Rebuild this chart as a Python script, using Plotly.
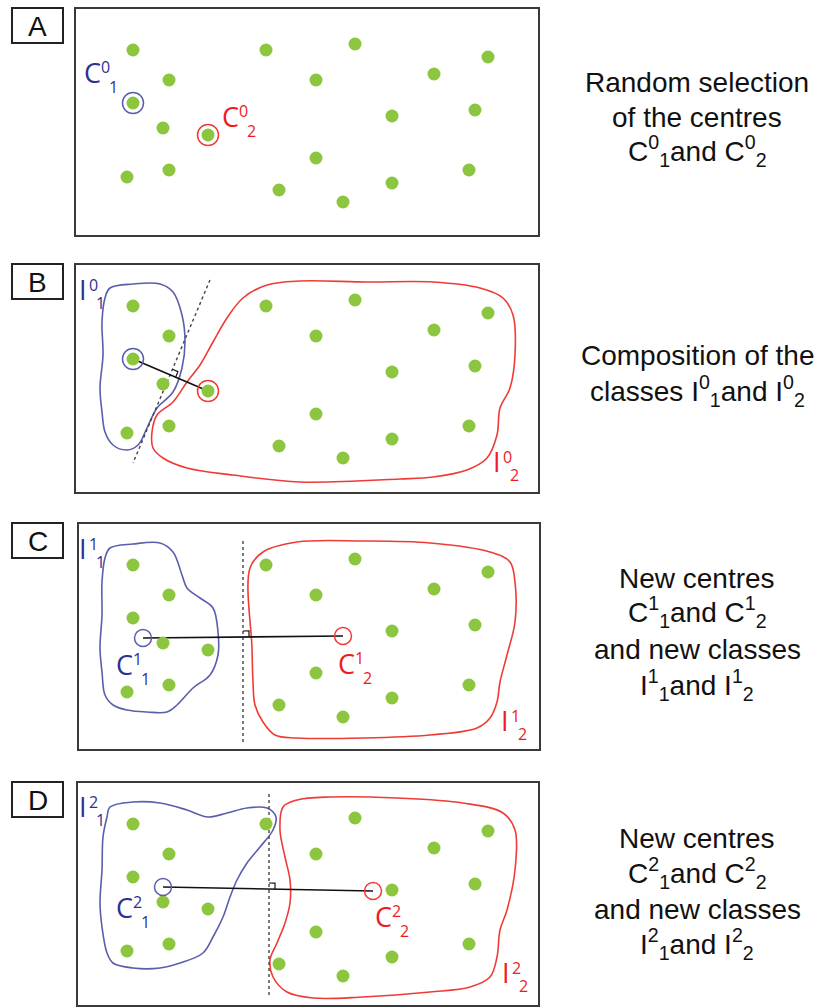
import plotly.graph_objects as go
import numpy as np

W, H = 822, 1007

# ---- data: point positions (panel A frame, pixels) ----
dot_x = [133, 169, 133, 163, 208, 127, 169, 266, 279, 355, 316, 434, 488, 392, 475, 316, 469, 392, 343]
dot_y = [50, 80, 103, 128, 135, 177, 170, 50, 190, 44, 80, 74, 57, 116, 110, 158, 170, 183, 202]

panel_names = ["A", "B", "C", "D"]
panel_offset = [0, 256, 515, 774]
panel_top = [8, 264, 523, 782]
panel_bottom = [236, 493, 750, 1006]
panel_left = [75, 75, 78, 77]
panel_right = [539, 539, 540, 539]

# centres per panel (blue, red)
centre1_x = [133, 133, 143, 163]
centre1_y = [103, 359, 638, 887]
centre2_x = [208, 208, 343, 373]
centre2_y = [135, 391, 636, 891]

# class outlines
b_blue_x = [105, 110, 133, 160, 173, 182, 185, 182, 173, 157, 147, 138, 127, 113, 105, 102, 100, 103, 102, 105]
b_blue_y = [298, 288, 284, 284, 292, 315, 342, 368, 392, 408, 428, 445, 450, 445, 432, 412, 388, 355, 322, 298]
b_red_x = [300, 367, 433, 480, 503, 513, 515, 510, 500, 497, 487, 467, 433, 400, 300, 233, 187, 163, 153, 152, 157, 173, 187, 200, 213, 227, 243, 267, 300]
b_red_y = [281, 282, 282, 288, 298, 315, 355, 388, 408, 435, 458, 470, 477, 479, 482, 475, 468, 458, 448, 432, 415, 402, 382, 365, 342, 318, 298, 285, 281]
c_blue_x = [102, 105, 110, 133, 160, 173, 182, 187, 200, 213, 218, 218, 210, 193, 177, 167, 147, 127, 113, 105, 102, 100, 102, 102]
c_blue_y = [582, 558, 548, 544, 543, 552, 575, 588, 598, 608, 632, 655, 675, 688, 705, 712, 712, 710, 705, 695, 672, 648, 615, 582]
c_red_x = [252, 250, 263, 297, 363, 430, 490, 510, 515, 515, 507, 500, 497, 490, 477, 430, 363, 297, 275, 263, 255, 253, 252]
c_red_y = [648, 568, 552, 542, 541, 543, 552, 562, 582, 622, 655, 682, 702, 718, 728, 735, 738, 738, 735, 722, 705, 682, 648]
d_blue_x = [102, 103, 107, 110, 133, 160, 187, 208, 227, 247, 267, 276, 273, 260, 247, 237, 230, 223, 213, 203, 180, 160, 133, 113, 107, 102, 100, 102]
d_blue_y = [870, 837, 817, 807, 802, 803, 810, 817, 813, 808, 808, 817, 830, 847, 863, 880, 897, 917, 937, 953, 963, 968, 968, 963, 953, 927, 903, 870]
d_red_x = [397, 463, 503, 515, 515, 507, 500, 497, 490, 470, 430, 363, 313, 287, 273, 270, 277, 285, 290, 290, 285, 280, 283, 297, 330, 397]
d_red_y = [798, 803, 813, 830, 870, 910, 930, 957, 977, 987, 992, 997, 998, 992, 977, 960, 943, 923, 903, 880, 857, 830, 807, 800, 797, 798]

outlines = [
    (b_blue_x, b_blue_y, "blue"), (b_red_x, b_red_y, "red"),
    (c_blue_x, c_blue_y, "blue"), (c_red_x, c_red_y, "red"),
    (d_blue_x, d_blue_y, "blue"), (d_red_x, d_red_y, "red"),
]

# separating (dotted) lines: panel B, C, D
sep_x0 = [210, 243, 269]
sep_y0 = [280, 541, 794]
sep_x1 = [133, 243, 269]
sep_y1 = [463, 743, 998]

# right-hand texts (lines, y positions)
right_lines = [
    ("Random selection", 82), ("of the centres", 117),
    ("C<sup>0</sup><sub>1</sub>and C<sup>0</sup><sub>2</sub>", 151),
    ("Composition of the", 355),
    ("classes I<sup>0</sup><sub>1</sub>and I<sup>0</sup><sub>2</sub>", 391),
    ("New centres", 578), ("C<sup>1</sup><sub>1</sub>and C<sup>1</sup><sub>2</sub>", 612),
    ("and new classes", 649), ("I<sup>1</sup><sub>1</sub>and I<sup>1</sup><sub>2</sub>", 685),
    ("New centres", 838), ("C<sup>2</sup><sub>1</sub>and C<sup>2</sup><sub>2</sub>", 873),
    ("and new classes", 909), ("I<sup>2</sup><sub>1</sub>and I<sup>2</sup><sub>2</sub>", 944),
]
right_x = 697

# symbolic labels: (letter, sup, sub, x, y, colour)
sym_labels = [
    ("C", "0", "1", 92, 72, "blue"), ("C", "0", "2", 230, 116, "red"),
    ("I", "0", "1", 83, 289, "blue"), ("I", "0", "2", 497, 461, "red"),
    ("I", "1", "1", 83, 548, "blue"), ("C", "1", "1", 124, 664, "blue"),
    ("C", "1", "2", 346, 663, "red"), ("I", "1", "2", 505, 720, "red"),
    ("I", "2", "1", 83, 806, "blue"), ("C", "2", "1", 124, 907, "blue"),
    ("C", "2", "2", 383, 916, "red"), ("I", "2", "2", 506, 972, "red"),
]

GREEN = "#8CC63F"
BLUE_LINE = "#5A5EAB"
BLUE_TEXT = "#2E3192"
RED_LINE = "#EF3B36"
RED_TEXT = "#ED1C24"
BORDER = "#3a3a3a"

fig = go.Figure()
shapes = []
annotations = []

# panel frames and letter boxes
for i, name in enumerate(panel_names):
    shapes.append(dict(type="rect", xref="x", yref="y", x0=panel_left[i], x1=panel_right[i],
                       y0=panel_top[i], y1=panel_bottom[i], line=dict(color=BORDER, width=2)))
    shapes.append(dict(type="rect", xref="x", yref="y", x0=12, x1=63,
                       y0=panel_top[i], y1=panel_top[i] + 35, line=dict(color="#222", width=2)))
    annotations.append(dict(x=37.5, y=panel_top[i] + 18, xref="x", yref="y", text=name, showarrow=False,
                            font=dict(family="Liberation Sans", size=28, color="#111"),
                            xanchor="center", yanchor="middle"))

# outlines of classes
for xs, ys, col in outlines:
    fig.add_trace(go.Scatter(x=xs, y=ys, mode="lines",
                             line=dict(color=BLUE_LINE if col == "blue" else RED_LINE, width=1.6,
                                       shape="spline", smoothing=1.0),
                             hoverinfo="skip", showlegend=False))

# separating lines
for j in range(3):
    fig.add_trace(go.Scatter(x=[sep_x0[j], sep_x1[j]], y=[sep_y0[j], sep_y1[j]], mode="lines",
                             line=dict(color="#444", width=1.4, dash="dot"),
                             hoverinfo="skip", showlegend=False))

# segments between centres + right-angle marks
for k in range(1, 4):
    ax, ay, bx, by = centre1_x[k], centre1_y[k], centre2_x[k], centre2_y[k]
    fig.add_trace(go.Scatter(x=[ax, bx], y=[ay, by], mode="lines",
                             line=dict(color="#111", width=1.6), hoverinfo="skip", showlegend=False))
    j = k - 1
    p = np.array([sep_x0[j], sep_y0[j]], float)
    d = np.array([sep_x1[j] - sep_x0[j], sep_y1[j] - sep_y0[j]], float)
    a = np.array([ax, ay], float)
    e = np.array([bx - ax, by - ay], float)
    M = np.array([[d[0], -e[0]], [d[1], -e[1]]])
    t, s = np.linalg.solve(M, a - p)
    ip = p + t * d
    u = -d / np.linalg.norm(d) * 6
    v = e / np.linalg.norm(e) * 6
    sq = [ip + u, ip + u + v, ip + v]
    fig.add_trace(go.Scatter(x=[q[0] for q in sq], y=[q[1] for q in sq], mode="lines",
                             line=dict(color="#111", width=1.2), hoverinfo="skip", showlegend=False))

# green points
for i in range(4):
    fig.add_trace(go.Scatter(x=dot_x, y=[yy + panel_offset[i] for yy in dot_y], mode="markers",
                             marker=dict(color=GREEN, size=13, line=dict(width=0)),
                             hoverinfo="skip", showlegend=False))

# centre rings
for k in range(4):
    size = 21 if k < 2 else 17
    fig.add_trace(go.Scatter(x=[centre1_x[k]], y=[centre1_y[k]], mode="markers",
                             marker=dict(symbol="circle-open", size=size, color=BLUE_LINE, line=dict(width=1.5)),
                             hoverinfo="skip", showlegend=False))
    fig.add_trace(go.Scatter(x=[centre2_x[k]], y=[centre2_y[k]], mode="markers",
                             marker=dict(symbol="circle-open", size=size, color=RED_LINE, line=dict(width=1.5)),
                             hoverinfo="skip", showlegend=False))

# symbolic labels
for letter, sp, sb, lx, ly, col in sym_labels:
    c = BLUE_TEXT if col == "blue" else RED_TEXT
    if letter == "C":
        so, bo = (13, -5), (21, 15)
    else:
        so, bo = (10, -4), (17, 14)
    annotations.append(dict(x=lx, y=ly, xref="x", yref="y", text=letter, showarrow=False,
                            font=dict(family="Open Sans", size=27, color=c), xanchor="center", yanchor="middle"))
    annotations.append(dict(x=lx + so[0], y=ly + so[1], xref="x", yref="y", text=sp, showarrow=False,
                            font=dict(family="Open Sans", size=16, color=c), xanchor="center", yanchor="middle"))
    annotations.append(dict(x=lx + bo[0], y=ly + bo[1], xref="x", yref="y", text=sb, showarrow=False,
                            font=dict(family="Open Sans", size=16, color=c), xanchor="center", yanchor="middle"))

# right-hand descriptions
for txt, yy in right_lines:
    annotations.append(dict(x=right_x, y=yy, xref="x", yref="y", text=txt, showarrow=False,
                            font=dict(family="Liberation Sans", size=28, color="#111"),
                            xanchor="center", yanchor="middle"))

fig.update_layout(
    width=W, height=H, margin=dict(l=0, r=0, t=0, b=0),
    paper_bgcolor="white", plot_bgcolor="white",
    xaxis=dict(range=[0, W], visible=False, fixedrange=True),
    yaxis=dict(range=[H, 0], visible=False, fixedrange=True),
    shapes=shapes, annotations=annotations, showlegend=False,
)

fig.write_html("out.html", config={"displayModeBar": False},
               post_script="document.body.style.margin='0';document.body.style.overflow='hidden';")
